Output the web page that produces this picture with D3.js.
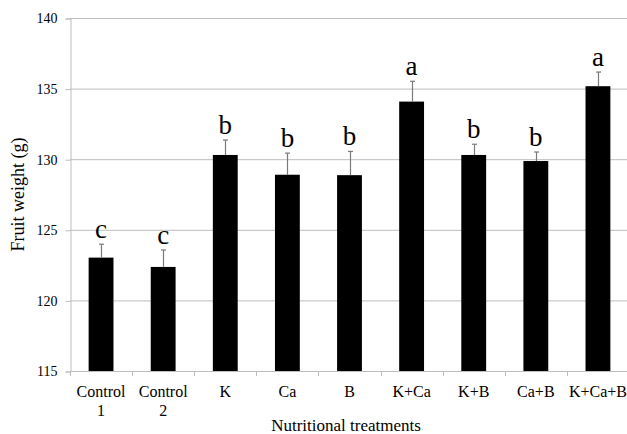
<!DOCTYPE html>
<html>
<head>
<meta charset="utf-8">
<script src="https://cdn.jsdelivr.net/npm/d3@7"></script>
<style>
html,body{margin:0;padding:0;background:#fff;}
svg{display:block;}
</style>
</head>
<body>
<svg id="chart" width="627" height="434"></svg>
<script>
const categories = [["Control","1"],["Control","2"],["K"],["Ca"],["B"],["K+Ca"],["K+B"],["Ca+B"],["K+Ca+B"]];
const means = [123.03, 122.37, 130.3, 128.9, 128.87, 134.08, 130.3, 129.87, 135.17];
const errors = [0.95, 1.2, 1.06, 1.53, 1.68, 1.44, 0.76, 0.64, 1.0];
const letters = ["c","c","b","b","b","a","b","b","a"];
const yTicks = [115, 120, 125, 130, 135, 140];
const yTitle = "Fruit weight (g)";
const xTitle = "Nutritional treatments";

(function () {
const svg = d3.select("#chart");
const mLeft = 70, mRight = 629, mTop = 18, mBottom = 371;
const gridColor = "#bdbdbd";

const keys = categories.map((c, i) => i);
const x = d3.scaleBand().domain(keys).range([mLeft, mRight]).paddingInner(0.6).paddingOuter(0.3);
const xb = d3.scaleBand().domain(keys).range([mLeft, mRight]);
const y = d3.scaleLinear().domain([115, 140]).range([mBottom, mTop]);

// gridlines
svg.append("g").selectAll("line").data(yTicks.slice(1)).join("line")
  .attr("x1", mLeft).attr("x2", mRight)
  .attr("y1", d => y(d) + 0.5).attr("y2", d => y(d) + 0.5)
  .attr("stroke", gridColor).attr("stroke-width", 1);

// y axis
const yAxis = d3.axisLeft(y).tickValues(yTicks).tickSize(5).tickPadding(8).tickFormat(d3.format("d"));
const gy = svg.append("g").attr("transform", `translate(${mLeft + 0.5},0.5)`).call(yAxis);
gy.select(".domain").attr("stroke", gridColor);
gy.selectAll(".tick line").attr("stroke", gridColor);
gy.selectAll(".tick text").attr("font-size", 14).attr("fill", "#000");

// x axis
svg.append("line").attr("x1", mLeft).attr("x2", mRight).attr("y1", mBottom + 0.5).attr("y2", mBottom + 0.5)
  .attr("stroke", gridColor);
svg.append("g").selectAll("line").data(keys.concat([keys.length])).join("line")
  .attr("x1", d => Math.round(mLeft + d * xb.step()) + 0.5)
  .attr("x2", d => Math.round(mLeft + d * xb.step()) + 0.5)
  .attr("y1", mBottom).attr("y2", mBottom + 5)
  .attr("stroke", gridColor);

// bars
svg.append("g").selectAll("rect").data(means).join("rect")
  .attr("x", (d, i) => x(i)).attr("width", x.bandwidth())
  .attr("y", d => y(d)).attr("height", d => mBottom - y(d))
  .attr("fill", "#000");

// error bars (upper)
const eg = svg.append("g").attr("stroke", "#7a7a7a").attr("stroke-width", 1.2);
means.forEach((m, i) => {
  const cx = Math.round(x(i) + x.bandwidth() / 2) + 0.5;
  eg.append("line").attr("x1", cx).attr("x2", cx).attr("y1", y(m)).attr("y2", y(m + errors[i]));
  eg.append("line").attr("x1", cx - 2.5).attr("x2", cx + 2.5).attr("y1", y(m + errors[i])).attr("y2", y(m + errors[i]));
});

// letters
svg.append("g").selectAll("text").data(letters).join("text")
  .attr("x", (d, i) => x(i) + x.bandwidth() / 2)
  .attr("y", (d, i) => y(means[i] + errors[i]) - 6)
  .attr("text-anchor", "middle").attr("font-size", 27)
  .text(d => d);

// category labels
const cg = svg.append("g");
categories.forEach((lines, i) => {
  const t = cg.append("text").attr("text-anchor", "middle").attr("font-size", 16)
    .attr("x", x(i) + x.bandwidth() / 2).attr("y", 397);
  lines.forEach((ln, j) => t.append("tspan").attr("x", x(i) + x.bandwidth() / 2).attr("dy", j === 0 ? 0 : 18.5).text(ln));
});

// titles
svg.append("text").attr("text-anchor", "middle").attr("font-size", 17)
  .attr("x", 346).attr("y", 431).text(xTitle);
svg.append("text").attr("text-anchor", "middle").attr("font-size", 18)
  .attr("transform", `translate(24,${(mTop + mBottom) / 2}) rotate(-90)`).text(yTitle);

svg.selectAll("text").style("font-family", '"Liberation Serif"').style("fill", "#000");
})();
</script>
</body>
</html>
